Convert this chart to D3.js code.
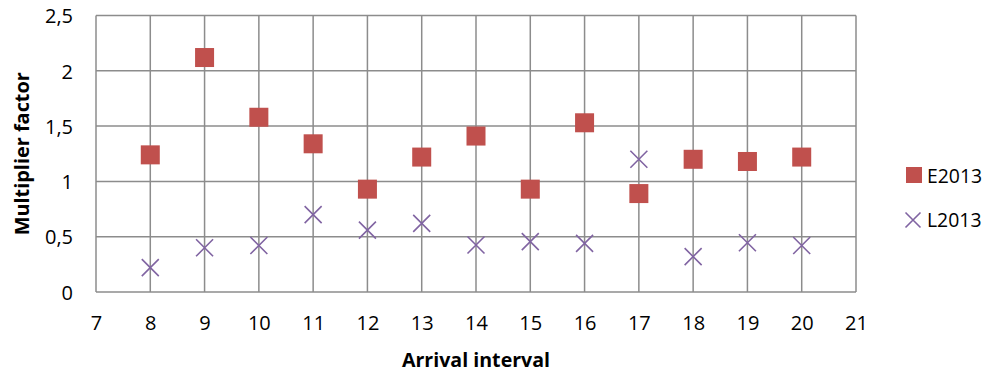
<!DOCTYPE html>
<html>
<head>
<meta charset="utf-8">
<script src="https://cdn.jsdelivr.net/npm/d3@7"></script>
<style>
  html, body { margin: 0; padding: 0; background: #fff; }
  svg { display: block; }
  text { font-family: "Open Sans", "Noto Sans", sans-serif; fill: #000; }
</style>
</head>
<body>
<svg id="chart" width="990" height="373"></svg>
<script>
// Arrival intervals and multiplier factors per series
const intervals = [8, 9, 10, 11, 12, 13, 14, 15, 16, 17, 18, 19, 20];
const e2013 = [1.24, 2.12, 1.58, 1.34, 0.93, 1.22, 1.41, 0.93, 1.53, 0.89, 1.20, 1.18, 1.22];
const l2013 = [0.22, 0.40, 0.42, 0.70, 0.56, 0.62, 0.425, 0.455, 0.44, 1.20, 0.32, 0.445, 0.42];
const xTicks = d3.range(7, 22);
const yTicks = [0, 0.5, 1, 1.5, 2, 2.5];
const seriesNames = ["E2013", "L2013"];

const colors = { E2013: "#C0504D", L2013: "#8064A2" };
const gridColor = "#8c8c8c";

const svg = d3.select("#chart");
const plot = { left: 96, right: 856, top: 15.5, bottom: 292 };

const x = d3.scaleLinear().domain([7, 21]).range([plot.left, plot.right]);
const y = d3.scaleLinear().domain([0, 2.5]).range([plot.bottom, plot.top]);

const fmt = d => String(d).replace(".", ",");

// Gridlines (they also form the plot frame)
const g = svg.append("g");
g.selectAll("line.h").data(yTicks).join("line")
  .attr("x1", plot.left).attr("x2", plot.right)
  .attr("y1", d => y(d)).attr("y2", d => y(d))
  .attr("stroke", gridColor).attr("stroke-width", 1.5);
g.selectAll("line.v").data(xTicks).join("line")
  .attr("x1", d => x(d)).attr("x2", d => x(d))
  .attr("y1", plot.top).attr("y2", plot.bottom)
  .attr("stroke", gridColor).attr("stroke-width", 1.5);

// Tick labels
const yAxis = svg.append("g")
  .attr("transform", `translate(${plot.left},0)`)
  .call(d3.axisLeft(y).tickValues(yTicks).tickFormat(fmt).tickSize(0).tickPadding(23));
yAxis.select(".domain").remove();
yAxis.selectAll("text").style("font-size", "20px").style("font-family", "'Open Sans', sans-serif").attr("dy", "0.36em");

const xAxis = svg.append("g")
  .attr("transform", `translate(0,${plot.bottom})`)
  .call(d3.axisBottom(x).tickValues(xTicks).tickFormat(d => d).tickSize(0).tickPadding(24));
xAxis.select(".domain").remove();
xAxis.selectAll("text").style("font-size", "20px").style("font-family", "'Open Sans', sans-serif").attr("dy", "0.71em");

// Axis titles
svg.append("text")
  .attr("x", (plot.left + plot.right) / 2).attr("y", 366.5)
  .attr("text-anchor", "middle")
  .style("font-size", "19.6px").style("font-weight", "bold")
  .text("Arrival interval");

svg.append("text")
  .attr("transform", `translate(28.5,${(plot.top + plot.bottom) / 2}) rotate(-90)`)
  .attr("text-anchor", "middle")
  .style("font-size", "19.9px").style("font-weight", "bold")
  .text("Multiplier factor");

// E2013 squares
const sq = 19;
svg.append("g").selectAll("rect").data(intervals.map((d, i) => [d, e2013[i]])).join("rect")
  .attr("x", d => x(d[0]) - sq / 2).attr("y", d => y(d[1]) - sq / 2)
  .attr("width", sq).attr("height", sq)
  .attr("fill", colors.E2013);

// L2013 crosses
const cr = 8.5;
const crossPath = (cx, cy, r) => `M${cx - r},${cy - r}L${cx + r},${cy + r}M${cx - r},${cy + r}L${cx + r},${cy - r}`;
svg.append("g").selectAll("path").data(intervals.map((d, i) => [d, l2013[i]])).join("path")
  .attr("d", d => crossPath(x(d[0]), y(d[1]), cr))
  .attr("stroke", colors.L2013).attr("stroke-width", 1.6).attr("fill", "none");

// Legend
const legend = svg.append("g");
legend.append("rect").attr("x", 906).attr("y", 167).attr("width", 16).attr("height", 16)
  .attr("fill", colors.E2013);
legend.append("text").attr("x", 927).attr("y", 182.5).style("font-size", "19.4px").text(seriesNames[0]);
legend.append("path").attr("d", crossPath(913, 220, 7.5))
  .attr("stroke", colors.L2013).attr("stroke-width", 1.6).attr("fill", "none");
legend.append("text").attr("x", 927).attr("y", 226.5).style("font-size", "19.4px").text(seriesNames[1]);
</script>
</body>
</html>
